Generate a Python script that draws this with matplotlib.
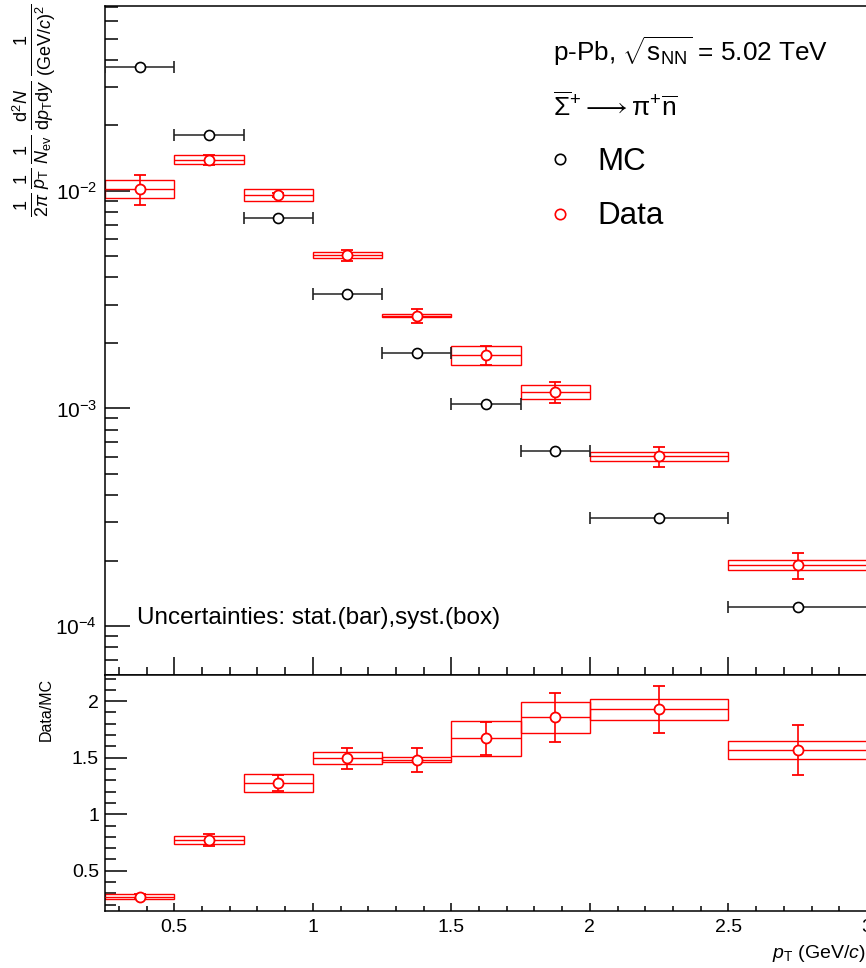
import matplotlib
matplotlib.use("Agg")
import matplotlib.pyplot as plt
from matplotlib.ticker import MultipleLocator, LogLocator, FuncFormatter, NullFormatter
from matplotlib.patches import Rectangle
import numpy as np

plt.rcParams['font.family'] = ['Liberation Sans', 'DejaVu Sans']
plt.rcParams['mathtext.fontset'] = 'custom'
plt.rcParams['mathtext.rm'] = 'Liberation Sans'
plt.rcParams['mathtext.it'] = 'Liberation Sans:italic'
plt.rcParams['mathtext.bf'] = 'Liberation Sans:bold'

# pT bins in GeV/c
bin_lo = [0.25, 0.5, 0.75, 1.0, 1.25, 1.5, 1.75, 2.0, 2.5]
bin_hi = [0.5, 0.75, 1.0, 1.25, 1.5, 1.75, 2.0, 2.5, 3.0]

# invariant yields
mc_yield = [0.0371, 0.0180, 0.00749, 0.00337, 0.00180, 0.001054, 0.000641, 0.000313, 0.0001222]
data_yield = [0.0102, 0.0139, 0.00958, 0.00507, 0.00267, 0.00176, 0.00119, 0.000604, 0.000191]
data_stat = [0.00163, 0.00075, 0.0002, 0.0003, 0.00019, 0.00017, 0.000135, 0.000065, 0.000027]
data_syst = [0.00096, 0.00065, 0.00062, 0.00018, 0.00004, 0.00017, 0.00009, 0.00003, 0.00001]

# data / MC
ratio = [0.271, 0.771, 1.276, 1.496, 1.482, 1.670, 1.856, 1.927, 1.567]
ratio_stat = [0.02, 0.052, 0.068, 0.092, 0.105, 0.146, 0.215, 0.208, 0.219]
ratio_syst = [0.024, 0.034, 0.082, 0.054, 0.023, 0.155, 0.14, 0.093, 0.077]

lo = np.array(bin_lo)
hi = np.array(bin_hi)
xc = 0.5 * (lo + hi)
xw = 0.5 * (hi - lo)

W, H = 866, 968
fig = plt.figure(figsize=(W / 100, H / 100), dpi=100)
ax = fig.add_axes([105 / W, (H - 674.5) / H, (867 - 105) / W, (674.5 - 6) / H])
rax = fig.add_axes([105 / W, (H - 911) / H, (867 - 105) / W, (911 - 674.5) / H])


def draw_points(a, y, stat, syst):
    for l, h, v, s in zip(lo, hi, y, syst):
        a.add_patch(Rectangle((l, v - s), h - l, 2 * s, fill=False, ec='red', lw=1.0, zorder=2))
    a.errorbar(xc, y, xerr=xw, fmt='none', ecolor='red', elinewidth=1.0, zorder=3)
    a.errorbar(xc, y, yerr=stat, fmt='o', ms=7.2, mfc='white', mec='red', mew=1.3,
               ecolor='red', elinewidth=1.2, capsize=4, capthick=1.2, zorder=4)


# MC
ax.errorbar(xc, mc_yield, xerr=xw, fmt='o', ms=7.2, mfc='white', mec='black', mew=1.2,
            ecolor='#222222', elinewidth=1.1, capsize=4, capthick=1.1, zorder=4)
draw_points(ax, data_yield, data_stat, data_syst)
draw_points(rax, ratio, ratio_stat, ratio_syst)

ax.set_yscale('log')
ax.set_xlim(0.25, 3.0)
ax.set_ylim(6.0e-5, 0.0706)
rax.set_xlim(0.25, 3.0)
rax.set_ylim(0.144, 2.236)

for a in (ax, rax):
    for sp in a.spines.values():
        sp.set_linewidth(1.1)
    a.tick_params(which='both', direction='in', top=False, right=False, width=1.1)
    a.xaxis.set_major_locator(MultipleLocator(0.5))
    a.xaxis.set_minor_locator(MultipleLocator(0.1))

ax.yaxis.set_major_locator(LogLocator(base=10))
ax.yaxis.set_minor_locator(LogLocator(base=10, subs=np.arange(2, 10)))
ax.yaxis.set_minor_formatter(NullFormatter())
ax.yaxis.set_major_formatter(FuncFormatter(lambda v, p: r'$10^{%d}$' % round(np.log10(v))))
ax.tick_params(axis='y', which='major', length=18, labelsize=15, pad=5.8)
ax.tick_params(axis='y', which='minor', length=9)
ax.tick_params(axis='x', which='major', length=13, labelbottom=False)
ax.tick_params(axis='x', which='minor', length=6)

rax.yaxis.set_major_locator(MultipleLocator(0.5))
rax.yaxis.set_minor_locator(MultipleLocator(0.1))
rax.yaxis.set_major_formatter(FuncFormatter(lambda v, p: '%g' % v))
rax.xaxis.set_major_formatter(FuncFormatter(lambda v, p: '%g' % v))
rax.tick_params(axis='y', which='major', length=15.6, labelsize=14, pad=4.3)
rax.tick_params(axis='y', which='minor', length=8)
rax.tick_params(axis='x', which='major', length=6, labelsize=14, pad=6)
rax.tick_params(axis='x', which='minor', length=3.6)

# axis titles
fig.text(35 / W, 1 - 4 / H,
         r'$\frac{1}{2\pi}\,\frac{1}{p_{\rm T}}\,\frac{1}{N_{\rm ev}}\,'
         r'\frac{{\rm d}^{2}N}{{\rm d}p_{\rm T}{\rm d}y}\,\frac{1}{({\rm GeV}/c)^{2}}$',
         rotation=90, ha='center', va='top', fontsize=18.5)
fig.text(46 / W, 1 - 678 / H, 'Data/MC', rotation=90, ha='center', va='top', fontsize=11.5)
fig.text(866 / W, 1 - 953 / H, r'$p_{\rm T}$ (GeV/$c$)', ha='right', va='center', fontsize=14)

# labels and legend
ax.text(0.588, 0.9177, r'p-Pb, $\sqrt{{\rm s}_{\rm NN}}$ = 5.02 TeV', transform=ax.transAxes,
        fontsize=18.8, va='baseline')
ax.text(0.588, 0.8355, r'$\overline{\Sigma}^{+}\longrightarrow\mathrm{\pi}^{+}\overline{\rm n}$',
        transform=ax.transAxes, fontsize=19, va='baseline')
ax.plot([0.597], [0.771], transform=ax.transAxes, ls='none', marker='o', ms=7.5,
        mfc='white', mec='black', mew=1.2, clip_on=False)
ax.plot([0.597], [0.689], transform=ax.transAxes, ls='none', marker='o', ms=7.5,
        mfc='white', mec='red', mew=1.2, clip_on=False)
ax.text(0.6457, 0.7547, 'MC', transform=ax.transAxes, fontsize=22.5, va='baseline')
ax.text(0.6457, 0.674, 'Data', transform=ax.transAxes, fontsize=22.5, va='baseline')
ax.text(0.042, 0.0755, 'Uncertainties: stat.(bar),syst.(box)', transform=ax.transAxes,
        fontsize=17.5, va='baseline')

fig.savefig('out.png', dpi=100)
